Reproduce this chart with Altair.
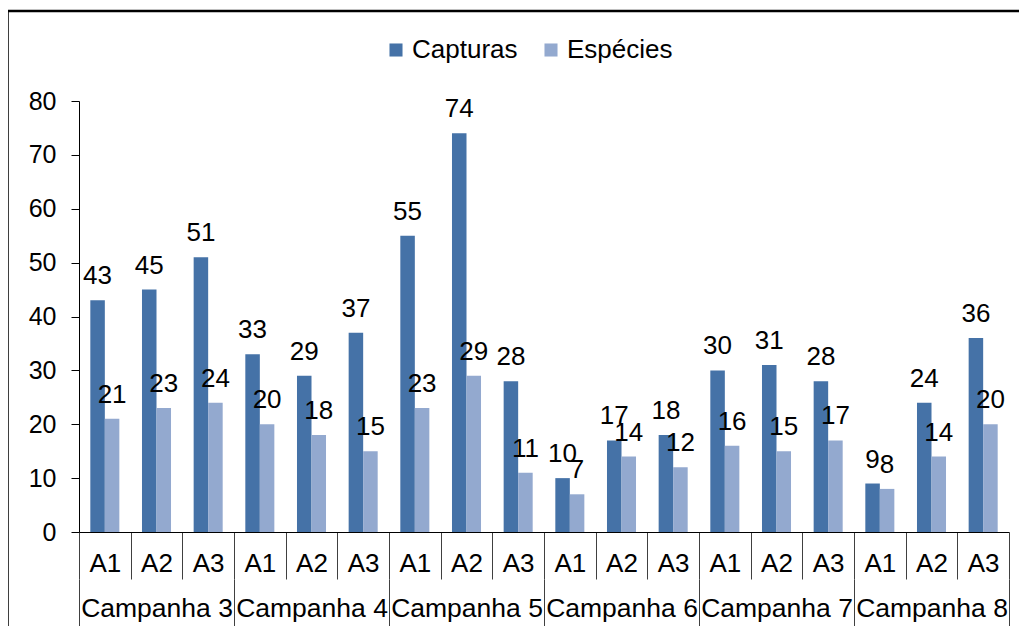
import altair as alt
import pandas as pd

campanhas = ["Campanha 3", "Campanha 4", "Campanha 5", "Campanha 6", "Campanha 7", "Campanha 8"]
areas = ["A1", "A2", "A3"]
capturas = [43, 45, 51, 33, 29, 37, 55, 74, 28, 10, 17, 18, 30, 31, 28, 9, 24, 36]
especies = [21, 23, 24, 20, 18, 15, 23, 29, 11, 7, 14, 12, 16, 15, 17, 8, 14, 20]
series = ["Capturas", "Espécies"]
cores = ["#4572A7", "#93A9CF"]
y_ticks = [0, 10, 20, 30, 40, 50, 60, 70, 80]

rows = []
keys = []
for i, c in enumerate(campanhas):
    for j, a in enumerate(areas):
        k = f"{c}|{a}"
        keys.append(k)
        idx = i * 3 + j
        rows.append({"key": k, "serie": "Capturas", "valor": capturas[idx]})
        rows.append({"key": k, "serie": "Espécies", "valor": especies[idx]})
df = pd.DataFrame(rows)
camp_df = pd.DataFrame({"campanha": campanhas})

FONT = "Liberation Sans"

x_main = alt.X(
    "key:N", sort=keys, title=None,
    scale=alt.Scale(paddingInner=0, paddingOuter=0),
    axis=alt.Axis(
        labelExpr="split(datum.label, '|')[1]", labelAngle=0, tickBand="extent",
        tickSize=47, labelPadding=-16, labelBaseline="middle", labelFontSize=26,
        labelOverlap=False, labelFont=FONT, labelColor="black",
        domainColor="black", tickColor="#404040",
    ),
)
x_off = alt.XOffset("serie:N", sort=series,
                    scale=alt.Scale(paddingOuter=0.78, paddingInner=0))
y_enc = alt.Y(
    "valor:Q", title=None,
    scale=alt.Scale(domain=[0, 80], nice=False),
    axis=alt.Axis(values=y_ticks, grid=False, tickSize=8, labelPadding=15,
                  labelFontSize=25, labelFont=FONT, labelColor="black",
                  domainColor="black", tickColor="black"),
)

frame = alt.Chart(pd.DataFrame({"f": [0]})).mark_rect(
    fillOpacity=0, stroke="black", strokeWidth=2.5
).encode(x=alt.value(-71.5), x2=alt.value(960), y=alt.value(-90), y2=alt.value(700))

bars = alt.Chart(df).mark_bar().encode(
    x=x_main, xOffset=x_off, y=y_enc,
    color=alt.Color(
        "serie:N", sort=series,
        scale=alt.Scale(domain=series, range=cores),
        legend=alt.Legend(
            title=None, orient="none", legendX=304, legendY=-64,
            direction="horizontal", columns=2, symbolType="square",
            symbolSize=170, symbolStrokeWidth=0, labelFontSize=26,
            labelFont=FONT, labelColor="black", columnPadding=20,
            labelOffset=3, padding=0,
        ),
    ),
)

labels = alt.Chart(df).mark_text(
    baseline="alphabetic", dy=-16, fontSize=26, font=FONT, color="black"
).encode(x=x_main, xOffset=x_off, y=y_enc, text="valor:Q")

camp = alt.Chart(camp_df).mark_point(opacity=0).encode(
    x=alt.X(
        "campanha:N", sort=campanhas, title=None,
        scale=alt.Scale(paddingInner=0, paddingOuter=0),
        axis=alt.Axis(
            orient="bottom", offset=47, domain=False, tickBand="extent",
            tickSize=48, labelPadding=-19, labelBaseline="middle", labelAngle=0,
            labelFontSize=26.5, labelFont=FONT, labelColor="black",
            labelOverlap=False, tickColor="#404040",
        ),
    ),
    y=alt.value(0),
)

inner = alt.layer(frame, bars, labels)
chart = alt.layer(inner, camp).resolve_scale(x="independent").properties(
    width=930, height=431,
    autosize=alt.AutoSizeParams(type="none"),
    padding={"left": 71, "top": 93, "right": 10, "bottom": 94},
).configure_view(strokeWidth=0)

chart.save("out.html", embed_options={"renderer": "svg", "actions": False})
